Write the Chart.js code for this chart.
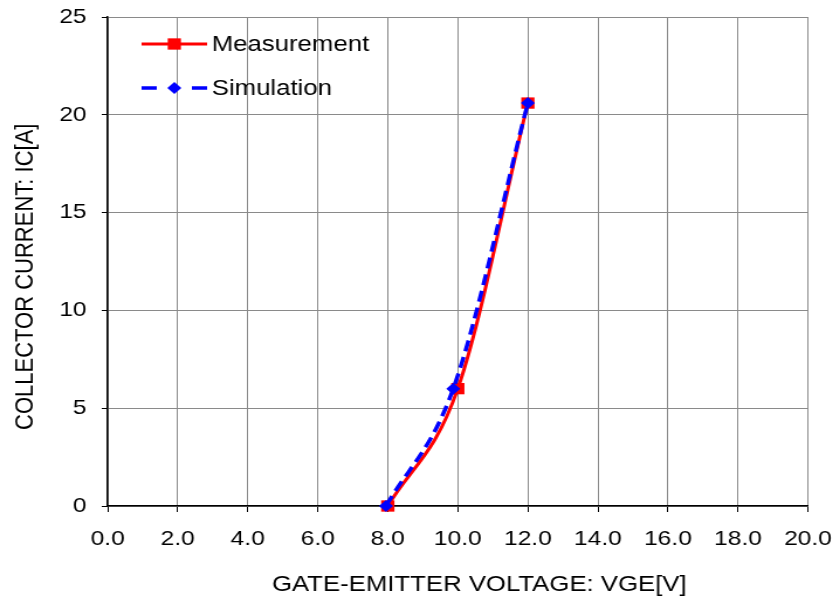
<!DOCTYPE html>
<html><head><meta charset="utf-8">
<script src="https://cdn.jsdelivr.net/npm/chart.js@4.4.1/dist/chart.umd.min.js"></script>
<style>
html,body{margin:0;padding:0;background:#fff;overflow:hidden}
#wrap{width:718px;height:602px;transform:scaleX(1.17);transform-origin:0 0}
canvas{display:block}
</style></head><body>
<div id="wrap"><canvas id="c" width="718" height="602"></canvas></div>
<script>
// ---- data ----
const measurementX = [8.0, 10.0, 12.0];
const measurementY = [0.0, 6.0, 20.6];
const simulationX  = [7.95, 9.87, 12.0];
const simulationY  = [0.0, 6.0, 20.6];
const xTickValues  = [0, 2, 4, 6, 8, 10, 12, 14, 16, 18, 20];
const yTickValues  = [0, 5, 10, 15, 20, 25];
const seriesNames  = ['Measurement', 'Simulation'];
const xTitle = '      GATE-EMITTER VOLTAGE: VGE[V]';
const yTitle = 'COLLECTOR CURRENT: IC[A]     ';

const FONT = "'Liberation Sans', Arial, sans-serif";
const toPts = (xs, ys) => xs.map((x, i) => ({x: x, y: ys[i]}));

const legendPlugin = {
  id: 'inlineLegend',
  afterDatasetsDraw(chart) {
    const ctx = chart.ctx;
    const x0 = 121, x1 = 177, xm = 149, xt = 181;
    chart.data.datasets.forEach((ds, i) => {
      const y = 44 + 44 * i;
      ctx.save();
      ctx.strokeStyle = ds.borderColor;
      ctx.lineWidth = ds.borderWidth;
      ctx.setLineDash(i === 1 ? [13, 30] : []);
      ctx.beginPath(); ctx.moveTo(x0, y); ctx.lineTo(x1, y); ctx.stroke();
      ctx.setLineDash([]);
      ctx.fillStyle = ds.pointBackgroundColor;
      const r = ds.pointRadius;
      ctx.beginPath();
      if (ds.pointStyle === 'rect') {
        const s = r * Math.SQRT1_2;
        ctx.rect(xm - s, y - s, 2 * s, 2 * s);
      } else {
        ctx.moveTo(xm - r, y); ctx.lineTo(xm, y - r); ctx.lineTo(xm + r, y); ctx.lineTo(xm, y + r); ctx.closePath();
      }
      ctx.fill();
      ctx.fillStyle = '#000';
      ctx.font = '22px ' + FONT;
      ctx.textBaseline = 'middle';
      ctx.textAlign = 'left';
      ctx.fillText(ds.label, xt, y + 1);
      ctx.restore();
    });
  }
};

new Chart(document.getElementById('c'), {
  type: 'line',
  data: {
    datasets: [
      {
        label: seriesNames[0],
        data: toPts(measurementX, measurementY),
        borderColor: '#FF0000', backgroundColor: '#FF0000',
        pointBackgroundColor: '#FF0000', pointBorderColor: '#FF0000',
        borderWidth: 3, pointStyle: 'rect', pointRadius: 8, pointBorderWidth: 0,
        cubicInterpolationMode: 'monotone', fill: false, clip: false, order: 1
      },
      {
        label: seriesNames[1],
        data: toPts(simulationX, simulationY),
        borderColor: '#0000FF', backgroundColor: '#0000FF',
        pointBackgroundColor: '#0000FF', pointBorderColor: '#0000FF',
        borderWidth: 3.5, borderDash: [11, 6], pointStyle: 'rectRot', pointRadius: 6, pointBorderWidth: 0,
        cubicInterpolationMode: 'monotone', fill: false, clip: false, order: 0
      }
    ]
  },
  options: {
    responsive: false, animation: false, devicePixelRatio: 1,
    layout: {padding: {left: 0, top: 17, right: 27.4, bottom: 0}},
    plugins: {legend: {display: false}, tooltip: {enabled: false}},
    scales: {
      x: {
        type: 'linear', min: 0, max: 20,
        afterBuildTicks: s => { s.ticks = xTickValues.map(v => ({value: v})); },
        afterFit: s => { s.height = 96; s.paddingLeft = 0; s.paddingRight = 0; },
        ticks: {callback: v => Number(v).toFixed(1), color: '#000', font: {family: FONT, size: 21}, padding: 15, maxRotation: 0},
        grid: {color: '#8a8a8a', lineWidth: 1, tickColor: '#000', tickLength: 6, tickWidth: 1},
        border: {color: '#000', width: 1.5},
        title: {display: true, text: xTitle, color: '#000', font: {family: FONT, size: 22}, padding: {top: 0, bottom: 4}}
      },
      y: {
        type: 'linear', min: 0, max: 25,
        afterBuildTicks: s => { s.ticks = yTickValues.map(v => ({value: v})); },
        afterFit: s => { s.width = 92; s.paddingTop = 0; s.paddingBottom = 0; },
        ticks: {color: '#000', font: {family: FONT, size: 21}, padding: 13},
        grid: {color: '#8a8a8a', lineWidth: 1, tickColor: '#000', tickLength: 5, tickWidth: 1},
        border: {color: '#000', width: 1.5},
        title: {display: true, text: yTitle, color: '#000', font: {family: FONT, size: 22}, padding: {top: 9, bottom: 0}}
      }
    }
  },
  plugins: [legendPlugin]
});
</script>
</body></html>
